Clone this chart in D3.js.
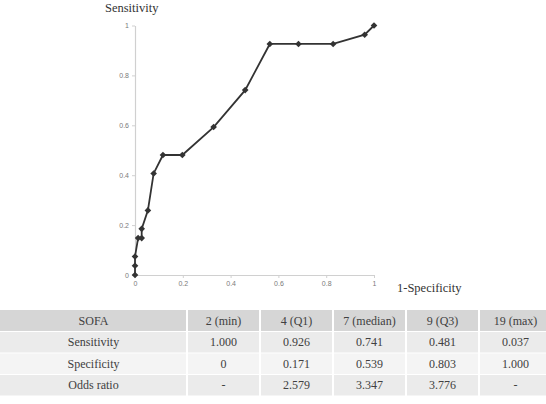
<!DOCTYPE html>
<html>
<head>
<meta charset="utf-8">
<script src="https://cdn.jsdelivr.net/npm/d3@7"></script>
<style>
	body { margin: 0; background: #fff; }
	svg { display: block; }
	.serif { font-family: "Liberation Serif", "Times New Roman", serif; }
</style>
</head>
<body>
<svg width="546" height="404"></svg>
<script>
// ROC curve points (1-specificity, sensitivity)
const oneMinusSpec = [0, 0, 0, 0.013, 0.028, 0.028, 0.054, 0.078, 0.117, 0.198, 0.329, 0.461, 0.564, 0.684, 0.829, 0.961, 1];
const sensitivity = [0, 0.037, 0.074, 0.148, 0.148, 0.185, 0.259, 0.407, 0.481, 0.481, 0.593, 0.741, 0.926, 0.926, 0.926, 0.963, 1];

const axisTicks = [0, 0.2, 0.4, 0.6, 0.8, 1];
const tickLabels = ["0", "0.2", "0.4", "0.6", "0.8", "1"];

// Table below the chart
const tableHeader = ["SOFA", "2 (min)", "4 (Q1)", "7 (median)", "9 (Q3)", "19 (max)"];
const rowSensitivity = ["Sensitivity", "1.000", "0.926", "0.741", "0.481", "0.037"];
const rowSpecificity = ["Specificity", "0", "0.171", "0.539", "0.803", "1.000"];
const rowOdds = ["Odds ratio", "-", "2.579", "3.347", "3.776", "-"];

document.addEventListener("DOMContentLoaded", function() {
	const svg = d3.select("svg");
	renderChart(svg);
	renderTable(svg);
});

/**
 * @method renderChart draws the ROC curve with its axes
 * @param {Object} svg d3 selection of the svg
 */
function renderChart(svg) {
	const xScale = d3.scaleLinear().domain([0, 1]).range([135, 374]);
	const yScale = d3.scaleLinear().domain([0, 1]).range([275, 25.5]);

	const xAxis = d3.axisBottom(xScale)
					.tickValues(axisTicks)
					.tickFormat((d, i) => tickLabels[i])
					.tickSizeInner(3)
					.tickSizeOuter(0)
					.tickPadding(3);

	const yAxis = d3.axisLeft(yScale)
					.tickValues(axisTicks)
					.tickFormat((d, i) => tickLabels[i])
					.tickSizeInner(3)
					.tickSizeOuter(0)
					.tickPadding(3);

	const xg = svg.append("g")
				  .attr("transform", `translate(0, ${yScale(0)})`)
				  .call(xAxis);
	const yg = svg.append("g")
				  .attr("transform", `translate(${xScale(0)}, 0)`)
				  .call(yAxis);

	// Excel look: pale grey lines, tiny grey numbers
	[xg, yg].forEach(g => {
		g.select(".domain").attr("stroke", "#d0d0d0").attr("stroke-width", 1.2);
		g.selectAll(".tick line").attr("stroke", "#d0d0d0");
		g.selectAll(".tick text")
		 .attr("fill", "#7a7a7a")
		 .attr("font-family", "Liberation Sans, Arial, sans-serif")
		 .attr("font-size", 7);
	});

	const points = oneMinusSpec.map((x, i) => [x, sensitivity[i]]);

	const line = d3.line()
				   .x(d => xScale(d[0]))
				   .y(d => yScale(d[1]));

	svg.append("path")
	   .datum(points)
	   .attr("d", line)
	   .attr("fill", "none")
	   .attr("stroke", "#333")
	   .attr("stroke-width", 1.8);

	svg.selectAll(".marker")
	   .data(points)
	   .enter()
	   .append("path")
	   .attr("class", "marker")
	   .attr("d", d3.symbol(d3.symbolDiamond2, 28))
	   .attr("transform", d => `translate(${xScale(d[0])}, ${yScale(d[1])})`)
	   .attr("fill", "#333");

	// Axis titles
	svg.append("text")
	   .attr("class", "serif")
	   .text("Sensitivity")
	   .attr("x", 105)
	   .attr("y", 12)
	   .attr("fill", "#333")
	   .style("font-size", "12.5px");

	svg.append("text")
	   .attr("class", "serif")
	   .text("1-Specificity")
	   .attr("x", 397)
	   .attr("y", 292)
	   .attr("fill", "#333")
	   .style("font-size", "12.5px");
}

/**
 * @method renderTable draws the summary table under the chart
 * @param {Object} svg d3 selection of the svg
 */
function renderTable(svg) {
	const rows = [tableHeader, rowSensitivity, rowSpecificity, rowOdds];
	const fills = ["#d6d6d6", "#ebebeb", "#f4f4f4", "#ebebeb"];

	const top = 310;
	const rowH = 21.5;
	const firstW = 187;
	const colW = 73;

	// left edge of each column; the last one runs off the page
	const colX = i => i === 0 ? 0 : firstW + (i - 1) * colW;
	const colWidth = i => i === 0 ? firstW : colW;

	const g = svg.append("g");

	rows.forEach((row, r) => {
		const y = top + r * rowH;
		const cells = g.append("g");

		cells.selectAll("rect")
			 .data(row)
			 .enter()
			 .append("rect")
			 .attr("x", (d, i) => colX(i) + (i === 0 ? 0 : 1))
			 .attr("y", y + (r === 0 ? 0 : 0.5))
			 .attr("width", (d, i) => colWidth(i) - (i === 0 ? 1 : 2))
			 .attr("height", rowH - (r === 0 ? 0.5 : 1))
			 .attr("fill", fills[r]);

		cells.selectAll("text")
			 .data(row)
			 .enter()
			 .append("text")
			 .attr("class", "serif")
			 .text(d => d)
			 .attr("x", (d, i) => colX(i) + colWidth(i) / 2)
			 .attr("y", y + rowH / 2 + 4)
			 .attr("text-anchor", "middle")
			 .attr("fill", "#404040")
			 .style("font-size", "12px");
	});
}
</script>
</body>
</html>
